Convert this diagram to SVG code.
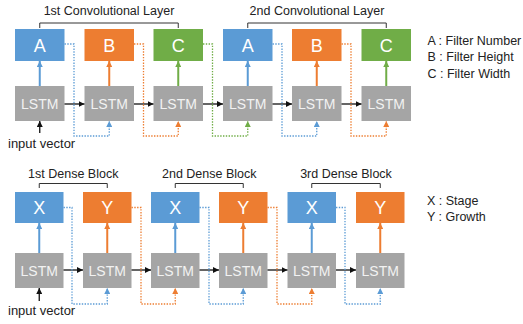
<svg xmlns="http://www.w3.org/2000/svg" width="523" height="324" viewBox="0 0 523 324">
<style>
text{font-family:"Liberation Sans",Arial,sans-serif}
.blue{fill:#5B9BD5}.orange{fill:#ED7D31}.green{fill:#70AD47}.gray{fill:#A5A5A5}
.let{fill:#fff;font-size:18px;text-anchor:middle}
.lstm{fill:#F2F2F2;font-size:14px;text-anchor:middle}
.title{fill:#222;font-size:12.5px;text-anchor:middle}
.leg{fill:#222;font-size:12.5px}
.br{fill:none;stroke:#333;stroke-width:1}
.va{stroke-width:2;fill:none}
.ha{stroke:#111;stroke-width:1.3;fill:none;marker-end:url(#mk)}
.dot{fill:none;stroke-width:1.3;stroke-dasharray:1.4 1.4}
.sb{stroke:#5B9BD5}.so{stroke:#ED7D31}.sg{stroke:#70AD47}
</style>
<defs>
<marker id="mk" viewBox="0 0 6 6" refX="6" refY="3" markerWidth="6" markerHeight="6" markerUnits="userSpaceOnUse" orient="auto"><path d="M0,0 L6,3 L0,6 z" fill="#111"/></marker>
<marker id="mb" viewBox="0 0 6 6" refX="6" refY="3" markerWidth="6" markerHeight="6" markerUnits="userSpaceOnUse" orient="auto"><path d="M0,0 L6,3 L0,6 z" fill="#5B9BD5"/></marker>
<marker id="mo" viewBox="0 0 6 6" refX="6" refY="3" markerWidth="6" markerHeight="6" markerUnits="userSpaceOnUse" orient="auto"><path d="M0,0 L6,3 L0,6 z" fill="#ED7D31"/></marker>
<marker id="mg" viewBox="0 0 6 6" refX="6" refY="3" markerWidth="6" markerHeight="6" markerUnits="userSpaceOnUse" orient="auto"><path d="M0,0 L6,3 L0,6 z" fill="#70AD47"/></marker>
</defs>

<!-- top titles -->
<g id="titles-top">
<text class="title" x="109" y="15">1st Convolutional Layer</text>
<path class="br" d="M39.75,28 V23 H178.25 V28"/>
<text class="title" x="317" y="15">2nd Convolutional Layer</text>
<path class="br" d="M247.75,28 V23 H386.25 V28"/>
</g>

<g id="t-p0"><rect class="blue" x="15" y="29" width="49.5" height="32"/><text class="let" x="39.75" y="51.5">A</text></g>
<g id="t-p1"><rect class="orange" x="84.5" y="29" width="49.5" height="32"/><text class="let" x="109.25" y="51.5">B</text></g>
<g id="t-p2"><rect class="green" x="153.5" y="29" width="49.5" height="32"/><text class="let" x="178.25" y="51.5">C</text></g>
<g id="t-p3"><rect class="blue" x="223" y="29" width="49.5" height="32"/><text class="let" x="247.75" y="51.5">A</text></g>
<g id="t-p4"><rect class="orange" x="292" y="29" width="49.5" height="32"/><text class="let" x="316.75" y="51.5">B</text></g>
<g id="t-p5"><rect class="green" x="361.5" y="29" width="49.5" height="32"/><text class="let" x="386.25" y="51.5">C</text></g>

<g id="t-l0"><rect class="gray" x="15" y="86" width="49.5" height="35"/><text class="lstm" x="39.75" y="108.5">LSTM</text></g>
<g id="t-l1"><rect class="gray" x="84.5" y="86" width="49.5" height="35"/><text class="lstm" x="109.25" y="108.5">LSTM</text></g>
<g id="t-l2"><rect class="gray" x="153.5" y="86" width="49.5" height="35"/><text class="lstm" x="178.25" y="108.5">LSTM</text></g>
<g id="t-l3"><rect class="gray" x="223" y="86" width="49.5" height="35"/><text class="lstm" x="247.75" y="108.5">LSTM</text></g>
<g id="t-l4"><rect class="gray" x="292" y="86" width="49.5" height="35"/><text class="lstm" x="316.75" y="108.5">LSTM</text></g>
<g id="t-l5"><rect class="gray" x="361.5" y="86" width="49.5" height="35"/><text class="lstm" x="386.25" y="108.5">LSTM</text></g>

<g id="t-input"><text class="leg" x="8" y="148" style="font-size:13px">input vector</text></g>

<g id="legend-top">
<text class="leg" x="427.5" y="44.5">A : Filter Number</text>
<text class="leg" x="427.5" y="61">B : Filter Height</text>
<text class="leg" x="427.5" y="77.5">C : Filter Width</text>
</g>

<!-- bottom titles -->
<g id="titles-bottom">
<text class="title" x="73.25" y="178">1st Dense Block</text>
<path class="br" d="M39.25,188 V183.5 H107.25 V188"/>
<text class="title" x="209.25" y="178">2nd Dense Block</text>
<path class="br" d="M175.25,188 V183.5 H243.25 V188"/>
<text class="title" x="346" y="178">3rd Dense Block</text>
<path class="br" d="M311.75,188 V183.5 H380.25 V188"/>
</g>

<g id="b-p0"><rect class="blue" x="15" y="192" width="48.5" height="31"/><text class="let" x="39.25" y="214">X</text></g>
<g id="b-p1"><rect class="orange" x="83" y="192" width="48.5" height="31"/><text class="let" x="107.25" y="214">Y</text></g>
<g id="b-p2"><rect class="blue" x="151" y="192" width="48.5" height="31"/><text class="let" x="175.25" y="214">X</text></g>
<g id="b-p3"><rect class="orange" x="219" y="192" width="48.5" height="31"/><text class="let" x="243.25" y="214">Y</text></g>
<g id="b-p4"><rect class="blue" x="287.5" y="192" width="48.5" height="31"/><text class="let" x="311.75" y="214">X</text></g>
<g id="b-p5"><rect class="orange" x="356" y="192" width="48.5" height="31"/><text class="let" x="380.25" y="214">Y</text></g>

<g id="b-l0"><rect class="gray" x="15" y="253" width="48.5" height="35"/><text class="lstm" x="39.25" y="275.5">LSTM</text></g>
<g id="b-l1"><rect class="gray" x="83" y="253" width="48.5" height="35"/><text class="lstm" x="107.25" y="275.5">LSTM</text></g>
<g id="b-l2"><rect class="gray" x="151" y="253" width="48.5" height="35"/><text class="lstm" x="175.25" y="275.5">LSTM</text></g>
<g id="b-l3"><rect class="gray" x="219" y="253" width="48.5" height="35"/><text class="lstm" x="243.25" y="275.5">LSTM</text></g>
<g id="b-l4"><rect class="gray" x="287.5" y="253" width="48.5" height="35"/><text class="lstm" x="311.75" y="275.5">LSTM</text></g>
<g id="b-l5"><rect class="gray" x="356" y="253" width="48.5" height="35"/><text class="lstm" x="380.25" y="275.5">LSTM</text></g>

<g id="b-input"><text class="leg" x="8" y="315" style="font-size:13px">input vector</text></g>

<g id="legend-bottom">
<text class="leg" x="427" y="204.5">X : Stage</text>
<text class="leg" x="427" y="221">Y : Growth</text>
</g>

<g id="connectors">
<!-- top vertical -->
<line class="va sb" x1="39.75" y1="86" x2="39.75" y2="61" marker-end="url(#mb)"/>
<line class="va so" x1="109.25" y1="86" x2="109.25" y2="61" marker-end="url(#mo)"/>
<line class="va sg" x1="178.25" y1="86" x2="178.25" y2="61" marker-end="url(#mg)"/>
<line class="va sb" x1="247.75" y1="86" x2="247.75" y2="61" marker-end="url(#mb)"/>
<line class="va so" x1="316.75" y1="86" x2="316.75" y2="61" marker-end="url(#mo)"/>
<line class="va sg" x1="386.25" y1="86" x2="386.25" y2="61" marker-end="url(#mg)"/>
<!-- top horizontal -->
<line class="ha" x1="64.5" y1="104" x2="84.5" y2="104"/>
<line class="ha" x1="134" y1="104" x2="153.5" y2="104"/>
<line class="ha" x1="203" y1="104" x2="223" y2="104"/>
<line class="ha" x1="272.5" y1="104" x2="292" y2="104"/>
<line class="ha" x1="341.5" y1="104" x2="361.5" y2="104"/>
<!-- input top -->
<line class="ha" x1="39.75" y1="133" x2="39.75" y2="121"/>
<!-- top dotted -->
<path class="dot sb" d="M64.5,44 H74 V136 H109.25 V121" marker-end="url(#mb)"/>
<path class="dot so" d="M134,44 H143.5 V136 H178.25 V121" marker-end="url(#mo)"/>
<path class="dot sg" d="M203,44 H212.5 V136 H247.75 V121" marker-end="url(#mg)"/>
<path class="dot sb" d="M272.5,44 H282 V136 H316.75 V121" marker-end="url(#mb)"/>
<path class="dot so" d="M341.5,44 H351 V136 H386.25 V121" marker-end="url(#mo)"/>
<!-- bottom vertical -->
<line class="va sb" x1="39.25" y1="253" x2="39.25" y2="223" marker-end="url(#mb)"/>
<line class="va so" x1="107.25" y1="253" x2="107.25" y2="223" marker-end="url(#mo)"/>
<line class="va sb" x1="175.25" y1="253" x2="175.25" y2="223" marker-end="url(#mb)"/>
<line class="va so" x1="243.25" y1="253" x2="243.25" y2="223" marker-end="url(#mo)"/>
<line class="va sb" x1="311.75" y1="253" x2="311.75" y2="223" marker-end="url(#mb)"/>
<line class="va so" x1="380.25" y1="253" x2="380.25" y2="223" marker-end="url(#mo)"/>
<!-- bottom horizontal -->
<line class="ha" x1="63.5" y1="270" x2="83" y2="270"/>
<line class="ha" x1="131.5" y1="270" x2="151" y2="270"/>
<line class="ha" x1="199.5" y1="270" x2="219" y2="270"/>
<line class="ha" x1="267.5" y1="270" x2="287.5" y2="270"/>
<line class="ha" x1="336" y1="270" x2="356" y2="270"/>
<!-- input bottom -->
<line class="ha" x1="39.25" y1="301" x2="39.25" y2="288"/>
<!-- bottom dotted -->
<path class="dot sb" d="M63.5,207.5 H72 V304 H107.25 V288" marker-end="url(#mb)"/>
<path class="dot so" d="M131.5,207.5 H141 V304 H175.25 V288" marker-end="url(#mo)"/>
<path class="dot sb" d="M199.5,207.5 H209 V304 H243.25 V288" marker-end="url(#mb)"/>
<path class="dot so" d="M267.5,207.5 H277 V304 H311.75 V288" marker-end="url(#mo)"/>
<path class="dot sb" d="M336,207.5 H345 V304 H380.25 V288" marker-end="url(#mb)"/>
</g>
</svg>
